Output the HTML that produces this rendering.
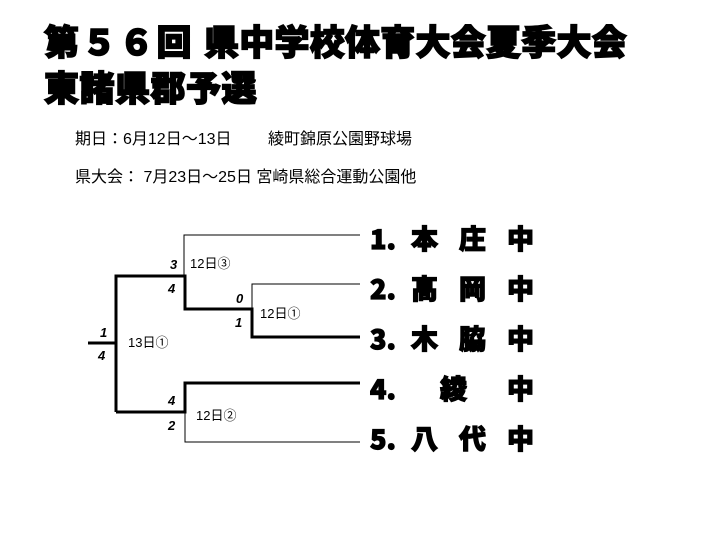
<!DOCTYPE html>
<html><head><meta charset="utf-8"><style>
body{margin:0;width:720px;height:540px;background:#fff;position:relative;overflow:hidden;font-family:"Liberation Sans","Noto Sans CJK JP",sans-serif;}
.t{position:absolute;font-family:"Noto Sans CJK JP",sans-serif;font-weight:900;font-size:35px;line-height:1;-webkit-text-stroke:1.5px #000;white-space:nowrap}
.i{position:absolute;font-size:16px;line-height:1;white-space:nowrap}
.n{position:absolute;font-family:"Noto Sans CJK JP",sans-serif;font-weight:900;font-size:27px;line-height:1;-webkit-text-stroke:1.2px #000;white-space:nowrap}
.s{position:absolute;font-weight:bold;font-style:italic;font-size:13px;line-height:1}
.l{position:absolute;font-size:13px;line-height:1;white-space:nowrap}
</style></head><body>
<div class="t" style="left:44px;top:23px;letter-spacing:2.5px">第５６回</div>
<div class="t" style="left:204px;top:23px;letter-spacing:0.25px">県中学校体育大会夏季大会</div>
<div class="t" style="left:44px;top:69px;letter-spacing:0.5px">東諸県郡予選</div>
<div class="i" style="left:75px;top:132px">期日：6月12日～13日　　 綾町錦原公園野球場</div>
<div class="i" style="left:75px;top:170px">県大会： 7月23日～25日  宮崎県総合運動公園他</div>
<svg width="720" height="540" style="position:absolute;left:0;top:0" stroke="#000" fill="none">
<g stroke-width="1">
<path d="M184 276V235H360"/>
<path d="M252 309V284H360"/>
<path d="M185 412V442H360"/>
</g>
<g stroke-width="3">
<path d="M88 343H116"/>
<path d="M116 412V276H185V309H252V337H360"/>
<path d="M116 412H185V383H360"/>
</g>
</svg>
<div class="s" style="left:170px;top:258px">3</div>
<div class="s" style="left:168px;top:282px">4</div>
<div class="s" style="left:236px;top:292px">0</div>
<div class="s" style="left:235px;top:316px">1</div>
<div class="s" style="left:100px;top:326px">1</div>
<div class="s" style="left:98px;top:349px">4</div>
<div class="s" style="left:168px;top:394px">4</div>
<div class="s" style="left:168px;top:419px">2</div>
<div class="l" style="left:190px;top:257px">12日③</div>
<div class="l" style="left:260px;top:307px">12日①</div>
<div class="l" style="left:128px;top:336px">13日①</div>
<div class="l" style="left:196px;top:409px">12日②</div>
<div class="n" style="left:370px;top:224px">1.</div><div class="n" style="left:411px;top:224px">本</div><div class="n" style="left:459px;top:224px">庄</div><div class="n" style="left:507px;top:224px">中</div>
<div class="n" style="left:370px;top:274px">2.</div><div class="n" style="left:411px;top:274px">高</div><div class="n" style="left:459px;top:274px">岡</div><div class="n" style="left:507px;top:274px">中</div>
<div class="n" style="left:370px;top:324px">3.</div><div class="n" style="left:411px;top:324px">木</div><div class="n" style="left:459px;top:324px">脇</div><div class="n" style="left:507px;top:324px">中</div>
<div class="n" style="left:370px;top:374px">4.</div><div class="n" style="left:440px;top:374px">綾</div><div class="n" style="left:507px;top:374px">中</div>
<div class="n" style="left:370px;top:424px">5.</div><div class="n" style="left:411px;top:424px">八</div><div class="n" style="left:459px;top:424px">代</div><div class="n" style="left:507px;top:424px">中</div>
</body></html>
